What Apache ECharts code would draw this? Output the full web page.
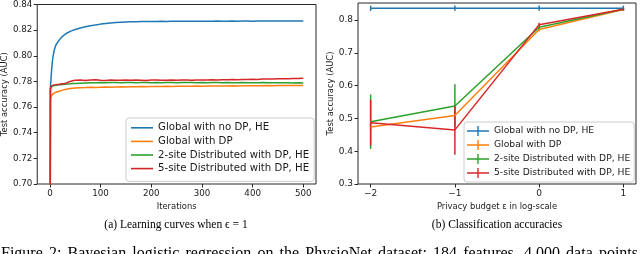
<!DOCTYPE html>
<html>
<head>
<meta charset="utf-8">
<script src="https://cdn.jsdelivr.net/npm/echarts@6/dist/echarts.min.js"></script>
<style>
html,body{margin:0;padding:0;background:#fff;}
#c{width:640px;height:254px;}
</style>
</head>
<body>
<div id="c"></div>
<script>
// ---------- Data: (a) learning curves ----------
const seriesNames = ['Global with no DP, HE', 'Global with DP', '2-site Distributed with DP, HE', '5-site Distributed with DP, HE'];
const seriesColors = ['#1f77b4', '#ff7f0e', '#2ca02c', '#d62728'];

const iterations = [0,1,2,3,4,5,6,8,10,12,15,20,25,30,35,40,45,50,60,70,80,90,
  100,110,120,130,140,150,160,170,180,190,200,210,220,230,240,250,260,270,280,290,
  300,310,320,330,340,350,360,370,380,390,400,410,420,430,440,450,460,470,480,490,500];

const aucNoDP = [0.50,0.776,0.781,0.787,0.792,0.796,0.799,0.8035,0.8065,0.8085,0.8105,0.8130,0.8152,0.8168,0.8180,0.8190,0.8198,0.8205,0.8217,0.8226,0.8234,0.8241,
  0.8247,0.8252,0.8256,0.8259,0.8262,0.8264,0.8265,0.8266,0.8267,0.8267,0.8268,0.8268,0.8269,0.8268,0.8269,0.8269,0.8270,0.8269,0.8270,0.8270,
  0.8269,0.8270,0.8270,0.8271,0.8270,0.8270,0.8271,0.8270,0.8271,0.8271,0.8270,0.8271,0.8271,0.8272,0.8271,0.8271,0.8272,0.8271,0.8272,0.8272,0.8272];

const aucDP = [0.50,0.766,0.768,0.769,0.7695,0.770,0.7703,0.7708,0.7712,0.7716,0.7720,0.7726,0.7732,0.7737,0.7741,0.7744,0.7746,0.7748,0.7751,0.7752,0.7754,0.7753,
  0.7755,0.7756,0.7755,0.7757,0.7758,0.7757,0.7759,0.7758,0.7760,0.7759,0.7760,0.7761,0.7760,0.7762,0.7761,0.7762,0.7763,0.7762,0.7763,0.7764,
  0.7763,0.7764,0.7765,0.7764,0.7765,0.7765,0.7766,0.7765,0.7766,0.7767,0.7766,0.7767,0.7767,0.7768,0.7767,0.7768,0.7768,0.7769,0.7768,0.7769,0.7769];

const auc2site = [0.50,0.7745,0.7755,0.7760,0.7762,0.7765,0.7766,0.7768,0.7770,0.7771,0.7772,0.7774,0.7776,0.7778,0.7780,0.7781,0.7783,0.7784,0.7786,0.7788,0.7789,0.7790,
  0.7791,0.7790,0.7792,0.7791,0.7790,0.7792,0.7791,0.7790,0.7791,0.7792,0.7790,0.7791,0.7790,0.7792,0.7791,0.7790,0.7791,0.7792,0.7791,0.7790,
  0.7791,0.7790,0.7791,0.7792,0.7790,0.7791,0.7790,0.7789,0.7791,0.7790,0.7789,0.7790,0.7791,0.7789,0.7790,0.7789,0.7790,0.7789,0.7788,0.7789,0.7788];

const auc5site = [0.50,0.7745,0.7758,0.7765,0.7768,0.7770,0.7772,0.7773,0.7775,0.7774,0.7776,0.7779,0.7781,0.7783,0.7792,0.7800,0.7805,0.7810,0.7812,0.7808,0.7811,0.7813,
  0.7810,0.7808,0.7811,0.7809,0.7810,0.7812,0.7809,0.7811,0.7810,0.7808,0.7811,0.7812,0.7810,0.7809,0.7811,0.7810,0.7812,0.7811,0.7809,0.7811,
  0.7812,0.7811,0.7813,0.7812,0.7814,0.7813,0.7815,0.7814,0.7816,0.7815,0.7817,0.7816,0.7818,0.7819,0.7818,0.7820,0.7821,0.7820,0.7822,0.7823,0.7825];

const leftXTicks = [0, 100, 200, 300, 400, 500];
const leftYTicks = [0.70, 0.72, 0.74, 0.76, 0.78, 0.80, 0.82, 0.84];

// ---------- Data: (b) classification accuracies ----------
const epsLog = [-2, -1, 0, 1];
const accNoDP = [0.836, 0.836, 0.836, 0.836];
const errNoDP = [0.008, 0.008, 0.008, 0.008];
const accDP = [0.474, 0.509, 0.771, 0.832];
const errDP = [0.010, 0.030, 0.006, 0.004];
const acc2site = [0.490, 0.538, 0.778, 0.833];
const err2site = [0.083, 0.066, 0.006, 0.004];
const acc5site = [0.487, 0.465, 0.786, 0.833];
const err5site = [0.070, 0.076, 0.006, 0.004];

const rightXTicks = [-2, -1, 0, 1];
const rightYTicks = [0.3, 0.4, 0.5, 0.6, 0.7, 0.8];

const captionA = '(a) Learning curves when \u03f5 = 1';
const captionB = '(b) Classification accuracies';
const figCaption = 'Figure 2: Bayesian logistic regression on the PhysioNet dataset: 184 features, 4,000 data points';

// ---------- Build chart ----------
const chart = echarts.init(document.getElementById('c'), null, {renderer: 'canvas'});
const TICKFONT = 'DejaVu Sans';
const axisCol = '#262626';

function pairs(xs, ys) { return xs.map((x, i) => [x, ys[i]]); }
function errData(xs, ys, es) { return xs.map((x, i) => [x, ys[i] - es[i], ys[i] + es[i]]); }

const leftData = [aucNoDP, aucDP, auc2site, auc5site];
const rightData = [[accNoDP, errNoDP], [accDP, errDP], [acc2site, err2site], [acc5site, err5site]];

const series = [];
leftData.forEach((d, i) => {
  series.push({
    name: seriesNames[i], type: 'line', xAxisIndex: 0, yAxisIndex: 0,
    data: pairs(iterations, d), symbol: 'none', showSymbol: false, clip: true,
    lineStyle: {color: seriesColors[i], width: 1.5}, itemStyle: {color: seriesColors[i]},
    animation: false
  });
});
rightData.forEach((d, i) => {
  series.push({
    name: seriesNames[i], type: 'line', xAxisIndex: 1, yAxisIndex: 1,
    data: pairs(epsLog, d[0]), symbol: 'none', showSymbol: false, clip: true,
    lineStyle: {color: seriesColors[i], width: 1.5}, itemStyle: {color: seriesColors[i]},
    animation: false
  });
  const col = seriesColors[i];
  series.push({
    name: 'err' + i, type: 'custom', xAxisIndex: 1, yAxisIndex: 1,
    data: errData(epsLog, d[0], d[1]), clip: true, animation: false,
    encode: {x: 0, y: [1, 2]},
    renderItem: function (params, api) {
      const x = api.value(0);
      const p1 = api.coord([x, api.value(1)]);
      const p2 = api.coord([x, api.value(2)]);
      return {type: 'line', shape: {x1: p1[0], y1: p1[1], x2: p2[0], y2: p2[1]},
        style: {stroke: col, lineWidth: 1.5}};
    }
  });
});

const labelStyle = {fontFamily: TICKFONT, fontSize: 8.7, color: '#1a1a1a'};
const nameStyle = {fontFamily: TICKFONT, fontSize: 8.4, color: '#1a1a1a'};

function fmtMinus(v) { return v < 0 ? '\u2212' + Math.abs(v) : String(v); }

// justified figure caption: place each word so the line fills the width
const capFont = '16px "Liberation Serif"';
const mctx = document.createElement('canvas').getContext('2d');
mctx.font = capFont;
const capWords = figCaption.split(' ');
const capWidths = capWords.map(w => mctx.measureText(w).width);
const capLeft = 1, capRight = 638;
const capGap = (capRight - capLeft - capWidths.reduce((a, b) => a + b, 0)) / (capWords.length - 1);
const capGraphics = [];
let cx = capLeft;
capWords.forEach((w, i) => {
  capGraphics.push({type: 'text', x: cx, y: 254, silent: true,
    style: {text: w, font: capFont, textAlign: 'left', textVerticalAlign: 'middle', align: 'left', verticalAlign: 'middle', fill: '#000'}});
  cx += capWidths[i] + capGap;
});

const option = {
  backgroundColor: '#fff',
  animation: false,
  grid: [
    {left: 36, top: 3, width: 280, height: 181, show: true, borderColor: axisCol, borderWidth: 1, backgroundColor: 'transparent'},
    {left: 358, top: 3, width: 278, height: 181, show: true, borderColor: axisCol, borderWidth: 1, backgroundColor: 'transparent'}
  ],
  xAxis: [
    {type: 'value', gridIndex: 0, min: -25, max: 525,
      name: 'Iterations', nameLocation: 'middle', nameGap: 17, nameTextStyle: nameStyle,
      axisLine: {show: false, onZero: false}, splitLine: {show: false},
      axisTick: {show: true, length: 3.5, lineStyle: {color: axisCol}, customValues: leftXTicks},
      axisLabel: {margin: 5, customValues: leftXTicks, ...labelStyle, formatter: v => String(v)}},
    {type: 'value', gridIndex: 1, min: -2.15, max: 1.15,
      name: 'Privacy budget \u03b5 in log-scale', nameLocation: 'middle', nameGap: 17, nameTextStyle: nameStyle,
      axisLine: {show: false, onZero: false}, splitLine: {show: false},
      axisTick: {show: true, length: 3.5, lineStyle: {color: axisCol}, customValues: rightXTicks},
      axisLabel: {margin: 5, customValues: rightXTicks, ...labelStyle, fontSize: 9, formatter: fmtMinus}}
  ],
  yAxis: [
    {type: 'value', gridIndex: 0, min: 0.70, max: 0.84,
      name: 'Test accuracy (AUC)', nameLocation: 'middle', nameGap: 26, nameTextStyle: nameStyle,
      axisLine: {show: false, onZero: false}, splitLine: {show: false},
      axisTick: {show: true, length: 3.5, lineStyle: {color: axisCol}, customValues: leftYTicks},
      axisLabel: {margin: 5, customValues: leftYTicks, ...labelStyle, formatter: v => v.toFixed(2)}},
    {type: 'value', gridIndex: 1, min: 0.3, max: 0.852,
      name: 'Test accuracy (AUC)', nameLocation: 'middle', nameGap: 23, nameTextStyle: nameStyle,
      axisLine: {show: false, onZero: false}, splitLine: {show: false},
      axisTick: {show: true, length: 3.5, lineStyle: {color: axisCol}, customValues: rightYTicks},
      axisLabel: {margin: 5, customValues: rightYTicks, ...labelStyle, fontSize: 9, formatter: v => v.toFixed(1)}}
  ],
  legend: [
    {orient: 'vertical', left: 126, top: 118, padding: [3, 5, 6, 5], itemGap: 0,
      itemWidth: 22, itemHeight: 1.6, icon: 'rect',
      data: seriesNames, selectedMode: false,
      itemStyle: {borderWidth: 0},
      textStyle: {fontFamily: TICKFONT, fontSize: 10.2, lineHeight: 13.6, color: '#1a1a1a'},
      backgroundColor: 'rgba(255,255,255,0.8)', borderColor: '#cccccc', borderWidth: 1, borderRadius: 3},
    {orient: 'vertical', left: 464, top: 122, padding: [2, 4, 2, 3], itemGap: 0,
      itemWidth: 22, itemHeight: 10,
      icon: 'path://M0,4.3 L22,4.3 L22,5.7 L0,5.7 Z M10.3,0 L11.7,0 L11.7,10 L10.3,10 Z',
      data: seriesNames, selectedMode: false,
      itemStyle: {borderWidth: 0},
      textStyle: {fontFamily: TICKFONT, fontSize: 9.2, lineHeight: 14, color: '#1a1a1a'},
      backgroundColor: 'rgba(255,255,255,0.8)', borderColor: '#cccccc', borderWidth: 1, borderRadius: 3}
  ],
  graphic: [
    {type: 'text', x: 176, y: 225, style: {text: captionA, font: '11.5px "Liberation Serif"', textAlign: 'center', textVerticalAlign: 'middle', align: 'center', verticalAlign: 'middle', fill: '#000'}},
    {type: 'text', x: 497, y: 225, style: {text: captionB, font: '11.5px "Liberation Serif"', textAlign: 'center', textVerticalAlign: 'middle', align: 'center', verticalAlign: 'middle', fill: '#000'}}
  ].concat(capGraphics),
  series: series
};
chart.setOption(option);
</script>
</body>
</html>
